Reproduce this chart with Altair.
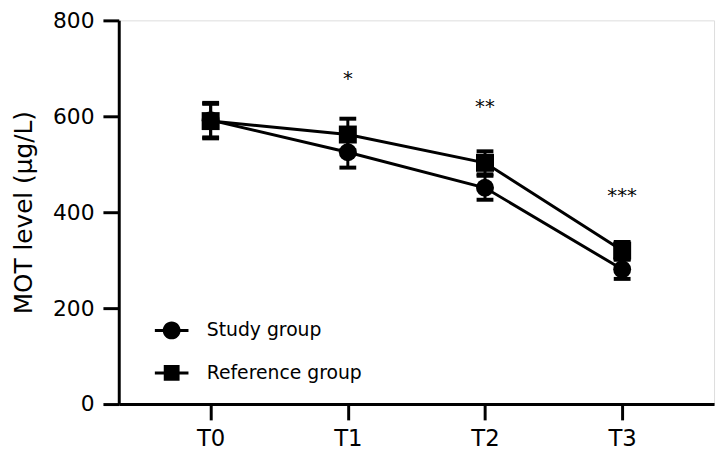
import altair as alt
import pandas as pd

categories = ["T0", "T1", "T2", "T3"]
groups = ["Study group", "Reference group"]
study_mean = [592, 525, 451, 281]
study_err = [36, 32, 25, 20]
ref_mean = [590, 562, 503, 320]
ref_err = [36, 33, 24, 18]
star_labels = ["*", "**", "***"]
star_cats = ["T1", "T2", "T3"]
star_y = [666, 606, 422]

rows = []
for g, means, errs in [(groups[0], study_mean, study_err), (groups[1], ref_mean, ref_err)]:
    for c, m, e in zip(categories, means, errs):
        rows.append({"time": c, "group": g, "mean": m, "lo": m - e, "hi": m + e})
df = pd.DataFrame(rows)
stars = pd.DataFrame({"time": star_cats, "label": star_labels, "y": star_y})

FONT = "DejaVu Sans"

x_enc = alt.X("time:N", sort=categories, scale=alt.Scale(type="point", padding=0.67),
              axis=alt.Axis(title=None, labelFontSize=23, labelFont=FONT, labelColor="black",
                            domainColor="black", domainWidth=3, tickColor="black", tickWidth=3,
                            tickSize=16, labelPadding=8, labelAngle=0, grid=False))
y_scale = alt.Scale(domain=[0, 800], nice=False)
y_axis = alt.Axis(title="MOT level (µg/L)", titleFontSize=25, titleFont=FONT, titleFontWeight="normal",
                  titleColor="black", titlePadding=16,
                  values=[0, 200, 400, 600, 800], labelFontSize=22, labelFont=FONT, labelColor="black",
                  domainColor="black", domainWidth=3, tickColor="black", tickWidth=3, tickSize=16,
                  labelPadding=9, grid=False)

base = alt.Chart(df)

lines = base.mark_line(color="black", strokeWidth=3).encode(
    x=x_enc, y=alt.Y("mean:Q", scale=y_scale, axis=y_axis), detail="group:N")

err = base.mark_rule(color="black", strokeWidth=3, opacity=1).encode(
    x=alt.X("time:N", sort=categories), y="lo:Q", y2="hi:Q")
cap_lo = base.mark_tick(color="black", thickness=4, size=17, orient="horizontal", opacity=1).encode(
    x=alt.X("time:N", sort=categories), y="lo:Q")
cap_hi = base.mark_tick(color="black", thickness=4, size=17, orient="horizontal", opacity=1).encode(
    x=alt.X("time:N", sort=categories), y="hi:Q")

points = base.mark_point(filled=True, color="black", opacity=1, size=330).encode(
    x=alt.X("time:N", sort=categories), y="mean:Q",
    shape=alt.Shape("group:N", sort=groups,
                    scale=alt.Scale(domain=groups, range=["circle", "square"]), legend=None))

circle_path = ("M1.125,0A1.125,1.125,0,1,1,-1.125,0A1.125,1.125,0,1,1,1.125,0Z"
               "M-2.125,-0.19H2.125V0.19H-2.125Z")
square_path = "M-1,-1H1V1H-1Z M-2.125,-0.19H2.125V0.19H-2.125Z"

legend_layer = base.mark_point(filled=True, color="black", opacity=0, size=256).encode(
    x=alt.X("time:N", sort=categories), y="mean:Q",
    shape=alt.Shape("group:N", sort=groups,
                    scale=alt.Scale(domain=groups, range=[circle_path, square_path]),
                    legend=alt.Legend(title=None, orient="none", legendX=44, legendY=304,
                                      labelFontSize=19, labelFont=FONT, labelColor="black",
                                      symbolSize=256, symbolOpacity=1, symbolFillColor="black",
                                      symbolStrokeColor="black", symbolStrokeWidth=0,
                                      labelOffset=26, rowPadding=23, padding=0, labelLimit=300)))

star_text = alt.Chart(stars).mark_text(fontSize=20, font=FONT, color="black", baseline="alphabetic").encode(
    x=alt.X("time:N", sort=categories), y="y:Q", text="label:N")

chart = alt.layer(lines, err, cap_lo, cap_hi, points, legend_layer, star_text).resolve_scale(
    shape="independent"
).properties(
    width=602, height=388,
    autosize=alt.AutoSizeParams(type="none"),
    padding={"left": 112, "top": 10, "right": 6, "bottom": 50},
).configure_view(stroke=None).configure(background="white")

chart.save("out.html", embed_options={"renderer": "svg", "actions": False})
